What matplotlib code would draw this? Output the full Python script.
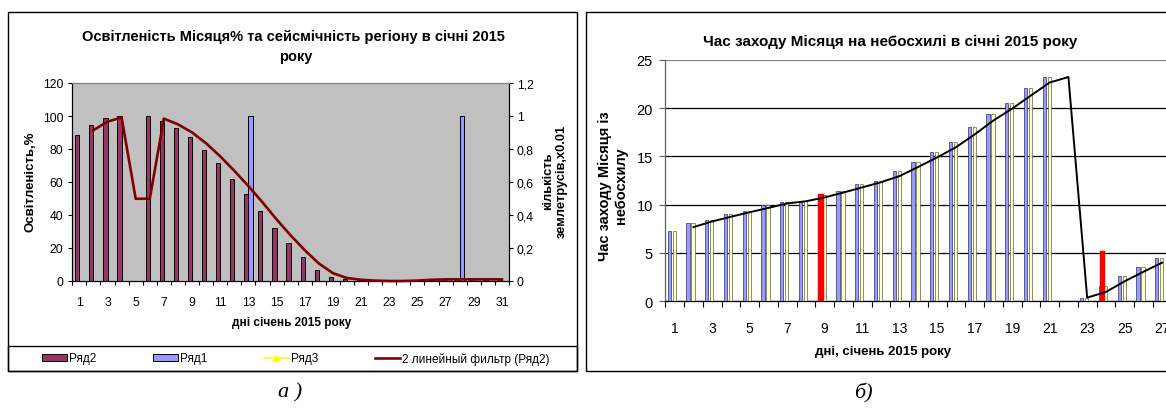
import numpy as np
import pandas as pd
import matplotlib
matplotlib.use('Agg')
import matplotlib.pyplot as plt
from matplotlib.patches import Rectangle, Patch
from matplotlib.lines import Line2D

plt.rcParams['font.family'] = ['Liberation Sans', 'DejaVu Sans']

W, H = 1166, 410

# ---------------- data: chart a) ----------------
days_a = list(range(1, 32))
illumination = [88.3, 94.6, 98.5, 99.7, 0.0, 99.7, 97.1, 92.8, 87.3, 79.6,
                71.5, 62.1, 53.0, 42.4, 32.3, 23.0, 14.4, 6.9, 2.6, 1.0,
                0.5, 0.0, 0.0, 0.0, 0.5, 1.0, 1.0, 1.0, 1.0, 1.0, 1.0]
earthquakes = [0, 0, 0, 0, 0, 0, 0, 0, 0, 0, 0, 0, 1, 0, 0, 0,
               0, 0, 0, 0, 0, 0, 0, 0, 0, 0, 0, 1, 0, 0, 0]
xticks_a = list(range(1, 32, 2))
yticks_a_left = [0, 20, 40, 60, 80, 100, 120]
yticks_a_right = [0, 0.2, 0.4, 0.6, 0.8, 1.0, 1.2]
yticklabels_a_right = ['0', '0,2', '0,4', '0,6', '0,8', '1', '1,2']

# ---------------- data: chart б) ----------------
days_b = list(range(1, 28))
moonset_blue = [7.26, 8.09, 8.44, 9.06, 9.37, 9.96, 10.3, 10.4, 11.1, 11.41,
                12.16, 12.48, 13.45, 14.38, 15.41, 16.47, 18.07, 19.35, 20.52, 22.07,
                23.21, np.nan, 0.38, 1.55, 2.59, 3.52, 4.48]
moonset_yellow = [7.26, 8.09, 8.44, 9.06, 9.37, 9.96, 10.3, 10.4, 11.03, 11.41,
                  12.16, 12.48, 13.45, 14.38, 15.41, 16.47, 18.07, 19.35, 20.52, 22.07,
                  23.21, np.nan, 0.35, 1.55, 2.59, 3.52, 4.48]
moonset_red = [np.nan] * 8 + [11.15] + [np.nan] * 14 + [5.17] + [np.nan] * 3
xticks_b = list(range(1, 32, 2))
yticks_b = [0, 5, 10, 15, 20, 25]


def fig_rect(x0, y0, x1, y1):
    return [x0 / W, 1 - y1 / H, (x1 - x0) / W, (y1 - y0) / H]


def fx(x):
    return x / W


def fy(y):
    return 1 - y / H


fig = plt.figure(figsize=(W / 100, H / 100), dpi=100)
fig.patch.set_facecolor('white')

# ================= chart a) =================
ax1 = fig.add_axes(fig_rect(72.3, 84, 509, 282))
ax1b = ax1.twinx()
ax1.set_zorder(2)
ax1b.set_zorder(1)
ax1.patch.set_visible(False)
ax1b.patch.set_visible(True)
ax1b.set_facecolor('#C0C0C0')

xa = np.array(days_a)
ax1.bar(xa - 0.15, illumination, width=0.3, color='#993366',
        edgecolor='black', linewidth=0.7)
ax1b.bar(xa + 0.15, earthquakes, width=0.3, color='#9999FF',
         edgecolor='black', linewidth=0.7)

trend_a = pd.Series(illumination, index=days_a).rolling(2).mean()
ax1.plot(trend_a.index, trend_a.values, color='#800000', lw=1.9,
         clip_on=False, zorder=5)

ax1.set_xlim(0.5, 31.5)
ax1.set_ylim(0, 120)
ax1b.set_ylim(0, 1.2)
ax1.set_yticks(yticks_a_left)
ax1b.set_yticks(yticks_a_right)
ax1b.set_yticklabels(yticklabels_a_right)
ax1.set_xticks(xticks_a)
ax1.set_xticks(np.arange(0.5, 32, 1), minor=True)
ax1.tick_params(axis='x', which='major', length=0, pad=11, labelsize=8.8)
ax1.tick_params(axis='x', which='minor', length=3, width=0.8, direction='out')
ax1.tick_params(axis='y', length=3, width=0.8, pad=3.5, labelsize=8.8)
ax1b.tick_params(axis='y', length=3, width=0.8, pad=2.5, labelsize=8.8)
for a in (ax1, ax1b):
    a.spines['top'].set_color('#808080')
    a.spines['left'].set_color('black')
    a.spines['right'].set_color('black')
    a.spines['bottom'].set_color('black')
    for s in a.spines.values():
        s.set_linewidth(0.8)

fig.text(fx(293), fy(37), 'Освітленість Місяця% та сейсмічність регіону в січні 2015',
         ha='center', va='center', fontsize=10.5, weight='bold')
fig.text(fx(296), fy(57), 'року', ha='center', va='center', fontsize=10.5, weight='bold')
fig.text(fx(30), fy(182), 'Освітленість,%', rotation=90, ha='center', va='center',
         fontsize=9.5, weight='bold')
fig.text(fx(555), fy(181), 'кількість\nземлетрусів,х0.01', rotation=90, ha='center',
         va='center', fontsize=9.3, weight='bold', multialignment='center')
fig.text(fx(292), fy(323), 'дні січень 2015 року', ha='center', va='center',
         fontsize=8.5, weight='bold')

# box and legend strip
fig.add_artist(Rectangle((fx(8), fy(372)), (577 - 8) / W, (372 - 13) / H,
                         transform=fig.transFigure, fill=False, ec='black', lw=1.0))
fig.add_artist(Rectangle((fx(8), fy(372)), (577 - 8) / W, (372 - 347) / H,
                         transform=fig.transFigure, fill=False, ec='black', lw=1.0))

leg_items = [
    (42, Patch(facecolor='#993366', edgecolor='black', linewidth=0.7), 'Ряд2'),
    (153, Patch(facecolor='#9999FF', edgecolor='black', linewidth=0.7), 'Ряд1'),
    (264, Line2D([], [], color='#FFFF00', marker='^', markersize=5, lw=1.2), 'Ряд3'),
    (375, Line2D([], [], color='#800000', lw=1.9), '2 линейный фильтр (Ряд2)'),
]
for x0, h, lab in leg_items:
    fig.legend([h], [lab], loc='center left', bbox_to_anchor=(fx(x0), fy(359.5)),
               frameon=False, fontsize=8.5, handlelength=2.1, handleheight=0.6,
               handletextpad=0.2, borderpad=0, borderaxespad=0)

# ================= chart б) =================
ax2 = fig.add_axes(fig_rect(665.3, 60.7, 665.3 + 31 * 18.75, 302.3))
xb = np.array(days_b)
ax2.bar(xb - 0.29, moonset_blue, width=0.18, color='#9999FF',
        edgecolor='#303060', linewidth=0.5, zorder=3)
ax2.bar(xb - 0.02, moonset_yellow, width=0.18, color='#FFFFCC',
        edgecolor='#606040', linewidth=0.5, zorder=3)
ax2.bar(xb - 0.19, moonset_red, width=0.28, color='#FF0000',
        edgecolor='#FF0000', linewidth=0.3, zorder=4)

trend_b = pd.Series(moonset_blue, index=days_b).rolling(2, min_periods=1).mean()
trend_b.iloc[0] = np.nan
ax2.plot(trend_b.index, trend_b.values, color='black', lw=1.4, zorder=5)

ax2.set_xlim(0.5, 31.5)
ax2.set_ylim(0, 25)
ax2.set_yticks(yticks_b)
ax2.set_xticks(xticks_b)
ax2.set_xticks(np.arange(0.5, 32, 1), minor=True)
ax2.yaxis.grid(True, color='black', lw=0.9, zorder=1)
ax2.get_ygridlines()[-1].set_color('#808080')
ax2.set_axisbelow(True)
ax2.tick_params(axis='x', which='major', length=0, pad=14, labelsize=10)
ax2.tick_params(axis='x', which='minor', length=4, width=0.8, direction='out')
ax2.tick_params(axis='y', length=4, width=0.8, pad=5, labelsize=10.5, color='#606060')
ax2.spines['top'].set_visible(False)
ax2.spines['right'].set_visible(False)
ax2.spines['left'].set_color('#606060')
ax2.spines['bottom'].set_color('black')
for s in ax2.spines.values():
    s.set_linewidth(0.9)

fig.text(fx(890), fy(42), 'Час заходу Місяця на небосхилі в січні 2015 року',
         ha='center', va='center', fontsize=11, weight='bold')
fig.text(fx(613), fy(186), 'Час заходу Місяця із\nнебосхилу', rotation=90,
         ha='center', va='center', fontsize=10.5, weight='bold', multialignment='center')
fig.text(fx(883), fy(352), 'дні, січень 2015 року', ha='center', va='center',
         fontsize=9.5, weight='bold')

fig.add_artist(Rectangle((fx(586), fy(372)), (1300 - 586) / W, (372 - 13) / H,
                         transform=fig.transFigure, fill=False, ec='black', lw=1.0))

# captions
fig.text(fx(290), fy(393), 'а )', ha='center', va='center', fontsize=16,
         family=['Liberation Serif', 'DejaVu Serif'], style='italic')
fig.text(fx(863), fy(393), 'б)', ha='center', va='center', fontsize=16,
         family=['Liberation Serif', 'DejaVu Serif'], style='italic')

fig.savefig('out.png', dpi=100)
